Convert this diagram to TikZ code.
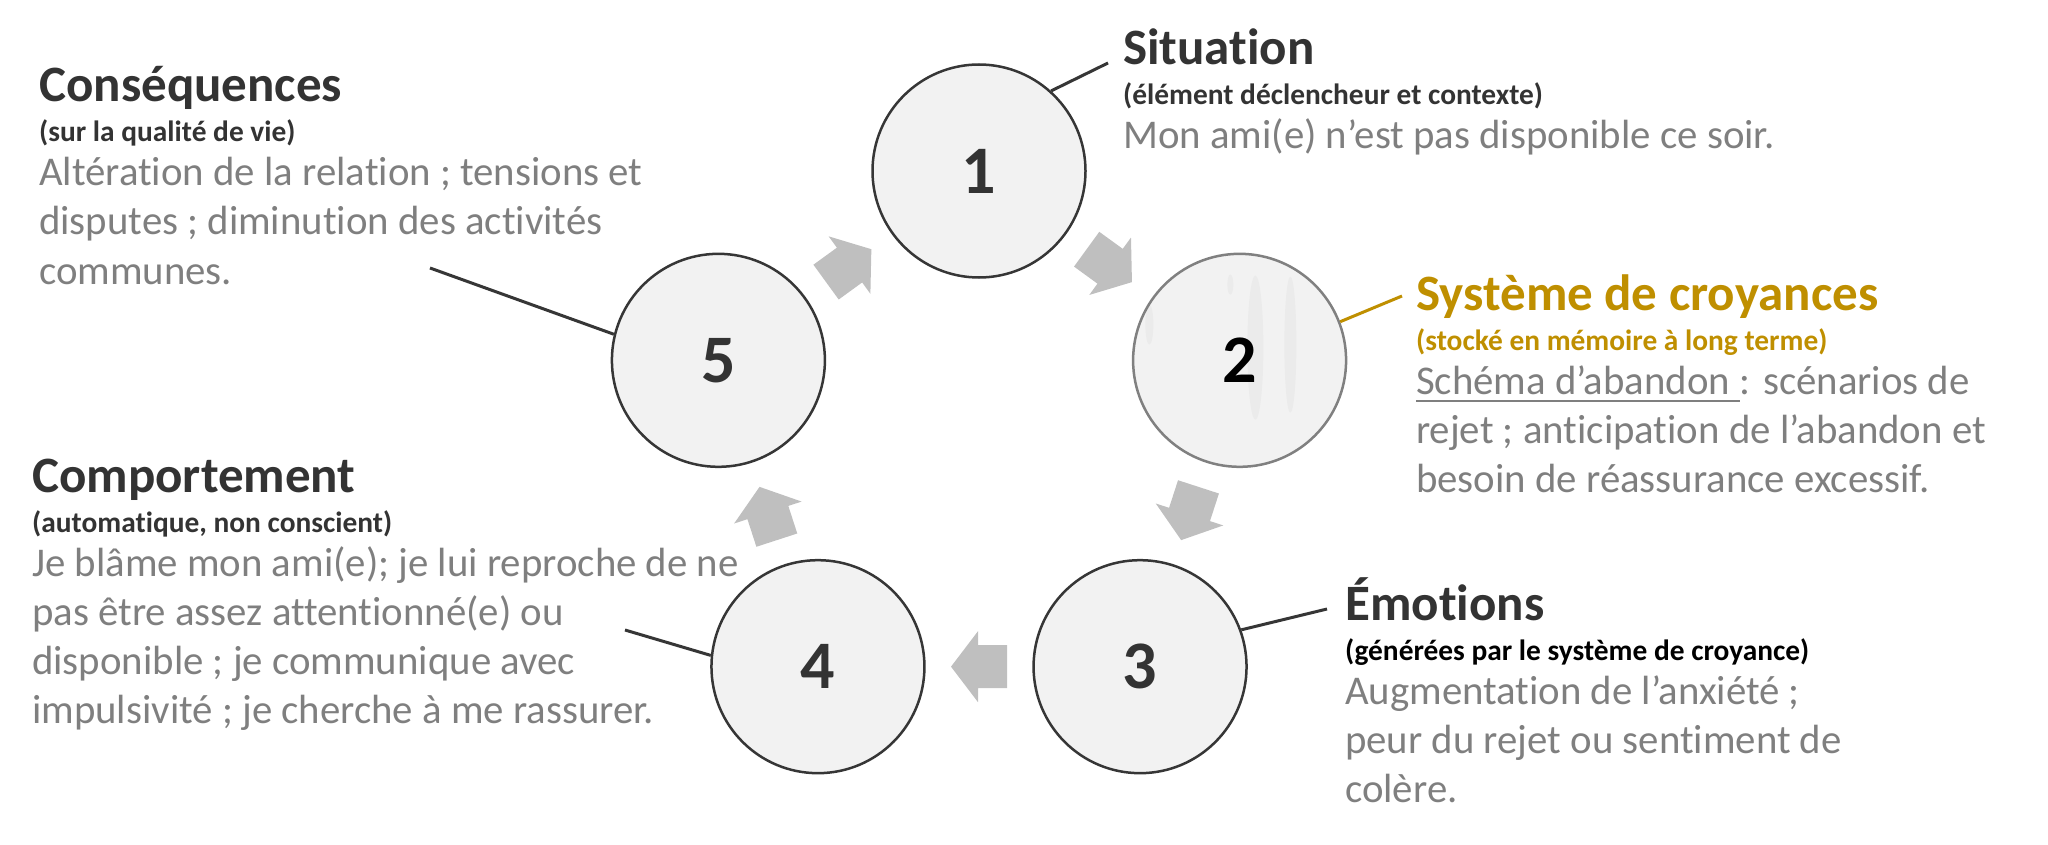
\documentclass[tikz,border=0pt]{standalone}
\usepackage{fontspec}
\setmainfont{Carlito}[Ligatures={NoCommon,NoDiscretionary,NoRare}]
\usetikzlibrary{calc}
\definecolor{dark}{HTML}{333333}
\definecolor{bodygray}{HTML}{7F7F7F}
\definecolor{gold}{HTML}{BF8F00}
\definecolor{arrowgray}{HTML}{BFBFBF}
\definecolor{circfill}{HTML}{F2F2F2}
\definecolor{circline}{HTML}{363636}
\definecolor{circtwo}{HTML}{808080}
\definecolor{streak}{HTML}{EBEBEB}
\begin{document}
\begin{tikzpicture}[x=1pt,y=1pt,
  circ/.style={circle,draw=circline,line width=2.5pt,fill=circfill,minimum size=213pt,inner sep=0pt,
    font=\fontsize{68}{68}\bfseries\selectfont,text=dark},
  ttl/.style={anchor=base west,inner sep=0pt,font=\fontsize{51}{60}\bfseries\selectfont,text=dark},
  subt/.style={anchor=base west,inner sep=0pt,font=\fontsize{29.4}{35}\bfseries\selectfont,text=dark},
  bodyt/.style={anchor=base west,inner sep=0pt,font=\fontsize{40.8}{49}\selectfont,text=bodygray},
  conn/.style={draw=circline,line width=3pt},
  blockarrow/.pic={\fill[arrowgray] (-28,-21.5) -- (1,-21.5) -- (1,-35.5) -- (28,0) -- (1,35.5) -- (1,21.5) -- (-28,21.5) -- cycle;}
]
\useasboundingbox (0,0) rectangle (2048,-845);
\coordinate (C) at (979,-445);

% circles
\node[circ] (c1) at ($(C)+(90:274)$) {1};
\node[circ,draw=circtwo,text=black,
  path picture={
    \fill[streak] (-73,58) ellipse (4 and 20);
    \fill[streak] (33,35) ellipse (8 and 72);
    \fill[streak] (68,38) ellipse (6 and 68);
    \fill[streak] (8,98) ellipse (3 and 10);
  }] (c2) at ($(C)+(18:274)$) {2};
\node[circ] (c3) at ($(C)+(-54:274)$) {3};
\node[circ] (c4) at ($(C)+(-126:274)$) {4};
\node[circ] (c5) at ($(C)+(162:274)$) {5};

% arrows
\pic[rotate=-36] at ($(c1)!0.5!(c2)$) {blockarrow};
\pic[rotate=-108] at ($(c2)!0.5!(c3)$) {blockarrow};
\pic[rotate=180] at ($(c3)!0.5!(c4)$) {blockarrow};
\pic[rotate=108] at ($(c4)!0.5!(c5)$) {blockarrow};
\pic[rotate=36] at ($(c5)!0.5!(c1)$) {blockarrow};

% connector ends
\coordinate (e1) at (1108,-63);
\coordinate (e2) at (1402,-296);
\coordinate (e3) at (1327,-609);
\coordinate (e4) at (625,-630);
\coordinate (e5) at (430,-268);
\draw[conn] (c1.48.8) -- (e1);
\draw[conn,draw=gold] (c2.21.5) -- (e2);
\draw[conn] (c3.20.8) -- (e3);
\draw[conn] (c4.174.8) -- (e4);
\draw[conn] (c5.166) -- (e5);

% 1 Situation
\node[ttl] (t1) at (1123,-65) {Situation};
\node[subt] (s1) at (1123,-105) {(élément déclencheur et contexte)};
\node[bodyt] (b1) at (1123,-149) {Mon ami(e) n’est pas disponible ce soir.};

% 2 Systeme
\node[ttl,text=gold] (t2) at (1416,-310) {Système de croyances};
\node[subt,text=gold] (s2) at (1416,-350) {(stocké en mémoire à long terme)};
\node[bodyt] (b2a) at (1416,-394) {Schéma d’abandon\ \hbox{}};
\node[bodyt] (b2b) at (b2a.base east) {: scénarios de};
\draw[bodygray,line width=2.5pt] ([yshift=-7pt]b2a.base west) -- ([yshift=-7pt]b2a.base east);
\node[bodyt] (b2c) at (1416,-443) {rejet ; anticipation de l’abandon et};
\node[bodyt] (b2d) at (1416,-492) {besoin de réassurance excessif.};

% 3 Emotions
\node[ttl] (t3) at (1345,-620) {Émotions};
\node[subt,text=black] (s3) at (1345,-660) {(générées par le système de croyance)};
\node[bodyt] (b3a) at (1345,-704) {Augmentation de l’anxiété ;};
\node[bodyt] (b3b) at (1345,-753) {peur du rejet ou sentiment de};
\node[bodyt] (b3c) at (1345,-802) {colère.};

% 4 Comportement
\node[ttl] (t4) at (32,-492) {Comportement};
\node[subt] (s4) at (32,-532) {(automatique, non conscient)};
\node[bodyt] (b4a) at (32,-576) {Je blâme mon ami(e); je lui reproche de ne};
\node[bodyt] (b4b) at (32,-625) {pas être assez attentionné(e) ou};
\node[bodyt] (b4c) at (32,-674) {disponible ; je communique avec};
\node[bodyt] (b4d) at (32,-723) {impulsivité ; je cherche à me rassurer.};

% 5 Consequences
\node[ttl] (t5) at (39,-102) {Conséquences};
\node[subt] (s5) at (39,-142) {(sur la qualité de vie)};
\node[bodyt] (b5a) at (39,-186) {Altération de la relation ; tensions et};
\node[bodyt] (b5b) at (39,-235) {disputes ; diminution des activités};
\node[bodyt] (b5c) at (39,-284) {communes.};
\end{tikzpicture}
\end{document}
